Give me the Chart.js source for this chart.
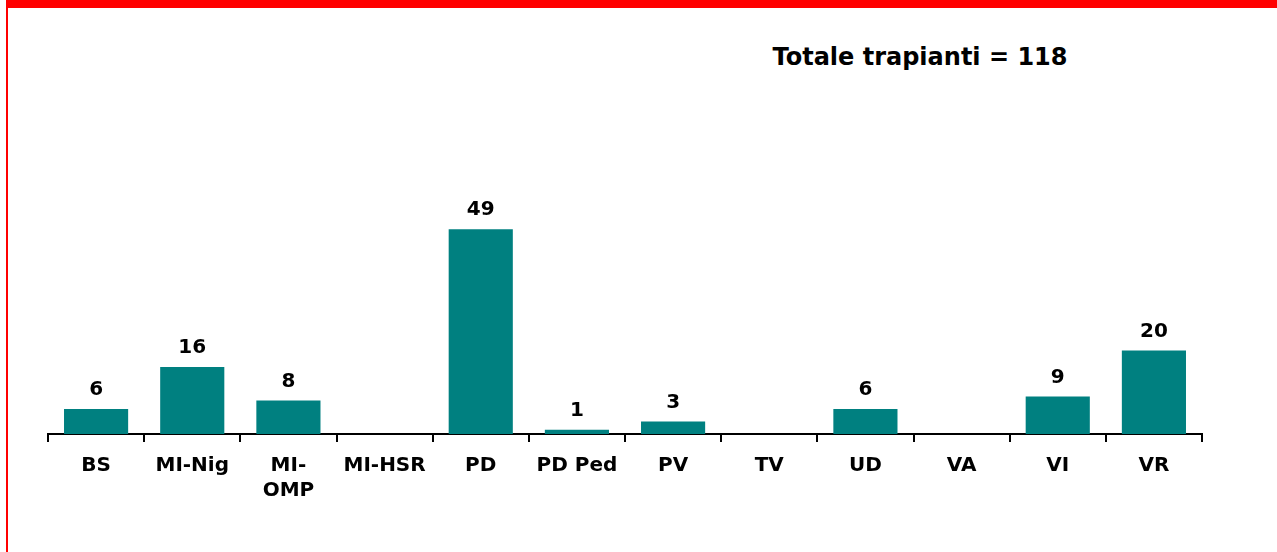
<!DOCTYPE html>
<html><head><meta charset="utf-8">
<script src="https://cdn.jsdelivr.net/npm/chart.js@4"></script>
<style>
html,body{margin:0;padding:0;background:#fff;}
#wrap{position:relative;width:1277px;height:552px;overflow:hidden;}
#frame{position:absolute;left:6px;top:0;width:1275px;height:560px;border-top:8px solid #ff0000;border-left:2px solid #ff0000;box-sizing:border-box;}
#title{position:absolute;left:740px;top:43px;width:360px;text-align:center;font:bold 24px "DejaVu Sans",Verdana,sans-serif;color:#000;}
canvas{position:absolute;left:0;top:0;}
</style></head>
<body><div id="wrap"><div id="frame"></div><div id="title">Totale trapianti = 118</div><canvas id="c" width="1277" height="552"></canvas></div>
<script>
const categories = ['BS','MI-Nig',['MI-','OMP'],'MI-HSR','PD','PD Ped','PV','TV','UD','VA','VI','VR'];
const values = [6,16,8,0,49,1,3,0,6,0,9,20];
const barColor = '#008080';

const valueLabels = {
  id:'valueLabels',
  afterDatasetsDraw(chart){
    const ctx = chart.ctx;
    const meta = chart.getDatasetMeta(0);
    ctx.save();
    ctx.font = 'bold 20px "DejaVu Sans", Verdana, sans-serif';
    ctx.fillStyle = '#000';
    ctx.textAlign = 'center';
    ctx.textBaseline = 'bottom';
    meta.data.forEach((bar,i)=>{
      const v = values[i];
      if(!v) return;
      ctx.fillText(String(v), bar.x, bar.y - 9);
    });
    ctx.restore();
  }
};

new Chart(document.getElementById('c'),{
  type:'bar',
  data:{labels:categories,datasets:[{data:values,backgroundColor:barColor,borderWidth:0,categoryPercentage:0.667,barPercentage:1}]},
  options:{
    responsive:false,animation:false,
    layout:{padding:{left:48,right:75,top:225,bottom:0}},
    plugins:{legend:{display:false},tooltip:{enabled:false}},
    scales:{
      y:{display:false,min:0,max:50},
      x:{
        offset:true,
        afterFit(s){ s.height = 118; },
        border:{display:true,color:'#000',width:2},
        grid:{offset:true,drawOnChartArea:false,drawTicks:true,tickLength:8,color:'#000',lineWidth:2},
        ticks:{color:'#000',padding:11,maxRotation:0,autoSkip:false,font:{family:'"DejaVu Sans", Verdana, sans-serif',weight:'bold',size:20,lineHeight:1.25}}
      }
    }
  },
  plugins:[valueLabels]
});
</script></body></html>
